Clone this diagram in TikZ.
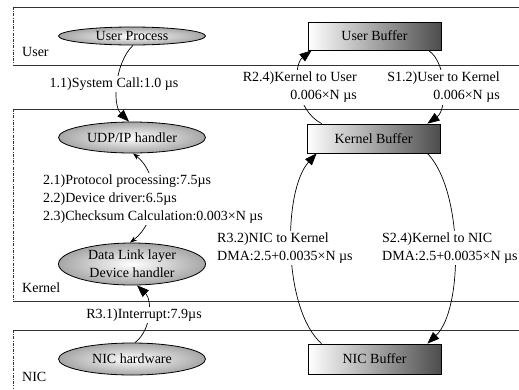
\documentclass[tikz,border=0pt]{standalone}
\usepackage{fontspec}
\setmainfont{Liberation Serif}
\usetikzlibrary{arrows.meta,shapes.geometric}
\tikzset{
	proc/.style={ellipse, draw, line width=0.8pt, inner sep=0pt, minimum width=147pt, inner color=white, outer color=black!35, align=center},
	buf/.style={rectangle, draw, line width=0.8pt, inner sep=0pt, minimum width=133pt, minimum height=29pt, left color=white, right color=black!70},
	lane/.style={line width=0.8pt, draw=black!80},
	laneside/.style={line width=0.8pt, draw=black!80, dash pattern=on 3pt off 1.2pt on 1pt off 1.2pt},
	lanename/.style={anchor=west, inner sep=0pt},
	call/.style={line width=0.7pt, -{Triangle[length=12pt,width=9pt]}},
	twoway/.style={line width=0.7pt, {Stealth[length=7pt,width=5pt]}-{Stealth[length=7pt,width=5pt]}},
	cost/.style={fill=white, inner sep=2pt}
}

\begin{document}
\begin{tikzpicture}[x=1pt, y=-1pt, font=\fontsize{14}{18}\selectfont]
		%%%%% START %%%%%
		\useasboundingbox (0,0) rectangle (519,389);
		
		% lanes
		\draw[lane] (13,7) -- (519,7);
		\draw[lane] (13,65) -- (519,65);
		\draw[laneside] (13,7) -- (13,65);
		\node[lanename] (userlane) at (22,52) {User};
		
		\draw[lane] (13,109) -- (519,109);
		\draw[lane] (13,301) -- (519,301);
		\draw[laneside] (13,109) -- (13,301);
		\node[lanename] (kernlane) at (22,288) {Kernel};
		
		\draw[lane] (13,330) -- (519,330);
		\draw[laneside] (13,330) -- (13,389);
		\node[lanename] (niclane) at (22,377) {NIC};
		
		% receive / send path
		\node[proc, minimum height=18pt] (userproc) at (132,36) {User Process};
		\node[proc, minimum height=31pt] (udp) at (132,137.5) {UDP/IP handler};
		\node[proc, minimum height=42pt] (datalink) at (132,264) {Data Link layer\\Device handler};
		\node[proc, minimum height=32pt] (nichw) at (132,359) {NIC hardware};
		
		\node[buf, minimum height=28pt] (userbuf) at (374.5,36) {User Buffer};
		\node[buf] (kernbuf) at (373.5,138.5) {Kernel Buffer};
		\node[buf, minimum height=30pt] (nicbuf) at (374.5,359) {NIC Buffer};
		
		% edges
		\draw[call] ([xshift=1pt]userproc.south) .. controls +(-18,17) and +(-17,-17) .. ([xshift=-3pt]udp.north);
		\draw[twoway] ([xshift=1pt]udp.south) .. controls +(28,22) and +(28,-21) .. ([xshift=-2pt]datalink.north);
		\draw[call] ([xshift=3pt]nichw.north) .. controls +(17,-13) and +(15,14) .. ([xshift=5pt]datalink.south);
		
		\draw[call] ([xshift=15pt]kernbuf.north west) .. controls +(-27,-14) and +(-19,15) .. ([xshift=4pt]userbuf.south west);
		\draw[call] ([xshift=-13pt]userbuf.south east) .. controls +(19,12) and +(20,-14) .. ([xshift=-13pt]kernbuf.north east);
		\draw[call] ([xshift=14pt]nicbuf.north west) .. controls +(-39,-34) and +(-34,37) .. ([xshift=10pt]kernbuf.south west);
		\draw[call] ([xshift=-13pt]kernbuf.south east) .. controls +(36,37) and +(36,-34) .. ([xshift=-14pt]nicbuf.north east);
		
		% costs
		\node[cost] (syscall) at (114,84) {1.1)System Call:1.0 µs};
		\node[cost, anchor=west, align=left] (protocol) at (41,199) {2.1)Protocol processing:7.5µs\\2.2)Device driver:6.5µs\\2.3)Checksum Calculation:0.003×N µs};
		\node[cost] (interrupt) at (144,315) {R3.1)Interrupt:7.9µs};
		\node[cost, anchor=east, align=right] (kern2user) at (359,87.5) {R2.4)Kernel to User\\0.006×N µs};
		\node[cost, anchor=east, align=right] (user2kern) at (502,87.5) {S1.2)User to Kernel\\0.006×N µs};
		\node[cost, anchor=west, align=left] (nic2kern) at (215,248) {R3.2)NIC to Kernel\\DMA:2.5+0.0035×N µs};
		\node[cost, anchor=west, align=left] (kern2nic) at (380,248) {S2.4)Kernel to NIC\\DMA:2.5+0.0035×N µs};
		
		%%%%% END %%%%%
\end{tikzpicture}
\end{document}
